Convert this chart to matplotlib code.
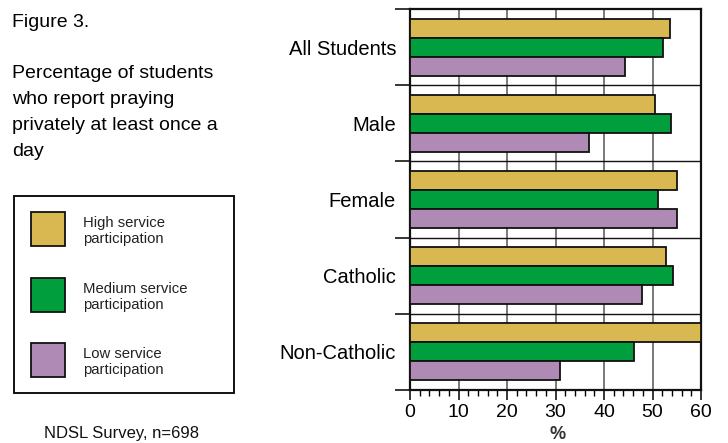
import matplotlib
matplotlib.use("Agg")
import matplotlib.pyplot as plt
import numpy as np
from matplotlib.patches import Rectangle

plt.rcParams['font.family'] = ['Liberation Sans', 'DejaVu Sans']

# data
groups = ["All Students", "Male", "Female", "Catholic", "Non-Catholic"]
high = [53.6, 50.5, 55.1, 52.8, 60.0]
medium = [52.2, 53.9, 51.2, 54.2, 46.2]
low = [44.3, 36.9, 55.0, 47.8, 31.0]
series_labels = ["High service\nparticipation", "Medium service\nparticipation",
                 "Low service\nparticipation"]
colors = ["#D9B852", "#009E3D", "#AE8AB4"]

W, H = 728, 443
fig = plt.figure(figsize=(W / 100, H / 100), dpi=100)

def px(x, y):
    # pixel coords (from top left) -> figure fraction
    return x / W, 1 - y / H

# main axes
ax = fig.add_axes([410 / W, 1 - 390 / H, 291 / W, 381 / H])
y = np.arange(len(groups))
bh = 0.25
for vals, off, c in zip([high, medium, low], [-bh, 0, bh], colors):
    ax.barh(y + off, vals, height=bh, color=c, edgecolor="#111111",
            linewidth=1.3, zorder=3)

ax.set_xlim(0, 60)
ax.set_ylim(len(groups) - 0.5, -0.5)

# grid
for xv in range(10, 60, 10):
    ax.axvline(xv, color="#555555", lw=1.1, zorder=1)
for yb in np.arange(0.5, len(groups) - 0.5, 1):
    ax.axhline(yb, color="#111111", lw=1.0, zorder=1)

ax.set_xticks(range(0, 61, 10))
ax.set_xticks(range(0, 61, 2), minor=True)
ax.tick_params(axis="x", which="major", length=7, width=1.1, labelsize=14, pad=3)
ax.tick_params(axis="x", which="minor", length=4, width=1.0)

ax.set_yticks(np.arange(-0.5, len(groups) + 0.5, 1))
ax.set_yticklabels([])
ax.set_yticks(y, minor=True)
ax.set_yticklabels(groups, minor=True)
ax.tick_params(axis="y", which="major", length=11, width=1.1)
ax.tick_params(axis="y", which="minor", length=0, labelsize=14.5, pad=10)

for s in ax.spines.values():
    s.set_linewidth(1.6)
    s.set_color("#111111")

fig.text(*px(558, 439), "%", ha="center", va="baseline", fontsize=13,
         fontweight="bold", color="#333333")

# left-hand text
fig.text(*px(12, 27), "Figure 3.", fontsize=14, va="baseline")
title_lines = ["Percentage of students", "who report praying",
               "privately at least once a", "day"]
for i, line in enumerate(title_lines):
    fig.text(*px(12, 78 + 26 * i), line, fontsize=14, va="baseline")

# legend box
fig.patches.append(Rectangle(px(14, 393), 220 / W, 197 / H, transform=fig.transFigure,
                             fill=False, edgecolor="#111111", lw=1.4))
patch_tops = [212, 278, 343]
for top, c, lab in zip(patch_tops, colors, series_labels):
    fig.patches.append(Rectangle(px(31, top + 34), 34 / W, 34 / H,
                                 transform=fig.transFigure, facecolor=c,
                                 edgecolor="#111111", lw=1.3))
    l1, l2 = lab.split("\n")
    fig.text(*px(83, top + 15), l1, fontsize=10.7, va="baseline", color="#222222")
    fig.text(*px(83, top + 31), l2, fontsize=10.7, va="baseline", color="#222222")

fig.text(*px(121, 438), "NDSL Survey, n=698", ha="center", va="baseline",
         fontsize=12, color="#111111")

fig.savefig("out.png", dpi=100)
